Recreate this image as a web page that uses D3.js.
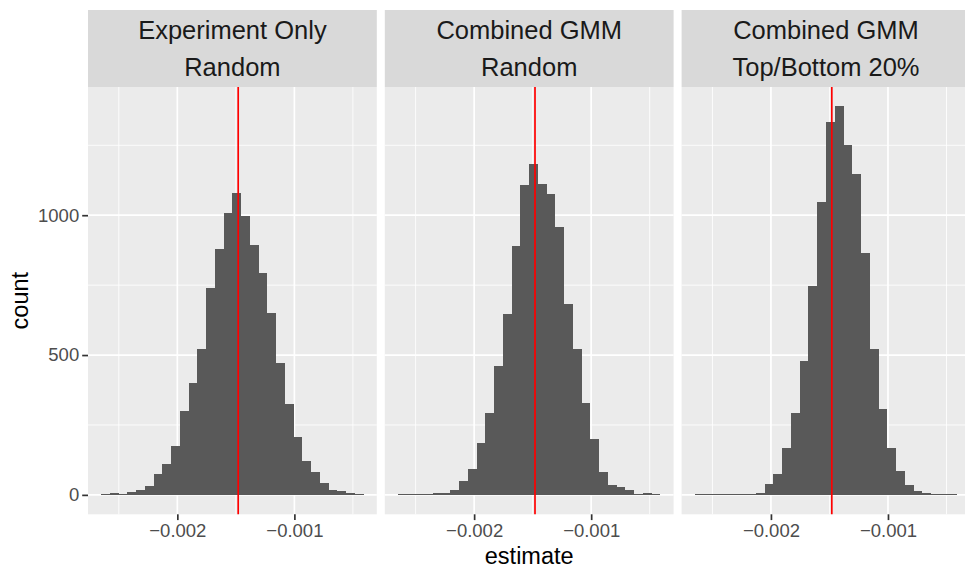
<!DOCTYPE html>
<html>
<head>
<meta charset="utf-8">
<script src="https://cdn.jsdelivr.net/npm/d3@7"></script>
<style>
  html, body { margin: 0; padding: 0; background: #ffffff; }
  svg { display: block; font-family: "Liberation Sans", Arial, Helvetica, sans-serif; }
</style>
</head>
<body>
<svg id="chart" width="965" height="568"></svg>
<script>
// ---- data ----
const panelTitles = [
  ["Experiment Only", "Random"],
  ["Combined GMM", "Random"],
  ["Combined GMM", "Top/Bottom 20%"]
];
// common histogram bins (30 bins shared by all facets)
const binMin = -0.0026511;
const binWidth = 0.00007477;
const countsExperimentRandom = [3, 5, 3, 12, 18, 30, 76, 112, 176, 300, 400, 521, 740, 880, 1008,
  1080, 997, 893, 793, 650, 473, 326, 208, 121, 82, 44, 18, 14, 5, 3];
const countsCombinedRandom = [3, 3, 3, 3, 5, 8, 19, 50, 93, 186, 293, 461, 646, 889, 1107,
  1182, 1111, 1075, 957, 682, 521, 329, 200, 82, 36, 29, 18, 3, 5, 3];
const countsCombinedTopBottom = [3, 3, 3, 3, 3, 3, 3, 8, 39, 75, 168, 293, 479, 746, 1046,
  1332, 1389, 1250, 1146, 864, 521, 307, 168, 86, 36, 14, 5, 3, 3, 3];
const vlineValue = -0.00148;
const xMajorTicks = [-0.002, -0.001];
const xTickLabels = ["\u22120.002", "\u22120.001"];
const xMinorTicks = [-0.0025, -0.0015, -0.0005];
const yMajorTicks = [0, 500, 1000];
const yTickLabels = ["0", "500", "1000"];
const yMinorTicks = [250, 750, 1250];
const xTitle = "estimate";
const yTitle = "count";

const allCounts = [countsExperimentRandom, countsCombinedRandom, countsCombinedTopBottom];

// ---- layout ----
const svg = d3.select("#chart");
const panelW = 288.8, panelGap = 8;
const firstLeft = 88;
const stripTop = 10, panelTop = 87, panelBottom = 514.3;

const nBins = countsExperimentRandom.length;
const binMax = binMin + nBins * binWidth;
const xr = binMax - binMin;
const xDomain = [binMin - 0.05 * xr, binMax + 0.05 * xr];
const yMax = d3.max(allCounts.flat());
const yDomain = [-0.05 * yMax, yMax * 1.05];

const x = d3.scaleLinear().domain(xDomain).range([0, panelW]);
const y = d3.scaleLinear().domain(yDomain).range([panelBottom, panelTop]);

const bgPanel = "#EBEBEB", bgStrip = "#D9D9D9", barFill = "#595959";

allCounts.forEach((counts, p) => {
  const left = firstLeft + p * (panelW + panelGap);
  const g = svg.append("g").attr("transform", `translate(${left},0)`);

  // strip
  g.append("rect").attr("x", 0).attr("y", stripTop).attr("width", panelW)
    .attr("height", panelTop - stripTop).attr("fill", bgStrip);
  g.append("text").attr("x", panelW / 2).attr("y", 39.3).attr("text-anchor", "middle")
    .attr("font-size", 25.5).attr("fill", "#1A1A1A").text(panelTitles[p][0]);
  g.append("text").attr("x", panelW / 2).attr("y", 76).attr("text-anchor", "middle")
    .attr("font-size", 25.5).attr("fill", "#1A1A1A").text(panelTitles[p][1]);

  // panel background
  g.append("rect").attr("x", 0).attr("y", panelTop).attr("width", panelW)
    .attr("height", panelBottom - panelTop).attr("fill", bgPanel);

  // minor grid
  xMinorTicks.forEach(v => g.append("line").attr("x1", x(v)).attr("x2", x(v))
    .attr("y1", panelTop).attr("y2", panelBottom).attr("stroke", "#fff").attr("stroke-width", 0.85));
  yMinorTicks.forEach(v => g.append("line").attr("x1", 0).attr("x2", panelW)
    .attr("y1", y(v)).attr("y2", y(v)).attr("stroke", "#fff").attr("stroke-width", 0.85));
  // major grid
  xMajorTicks.forEach(v => g.append("line").attr("x1", x(v)).attr("x2", x(v))
    .attr("y1", panelTop).attr("y2", panelBottom).attr("stroke", "#fff").attr("stroke-width", 1.7));
  yMajorTicks.forEach(v => g.append("line").attr("x1", 0).attr("x2", panelW)
    .attr("y1", y(v)).attr("y2", y(v)).attr("stroke", "#fff").attr("stroke-width", 1.7));

  // bars
  g.append("g").selectAll("rect").data(counts).join("rect")
    .attr("x", (d, i) => x(binMin + i * binWidth))
    .attr("width", (d, i) => x(binMin + (i + 1) * binWidth) - x(binMin + i * binWidth))
    .attr("y", d => y(d))
    .attr("height", d => y(0) - y(d))
    .attr("fill", barFill)
    .attr("shape-rendering", "crispEdges");

  // vertical reference line
  g.append("line").attr("x1", x(vlineValue)).attr("x2", x(vlineValue))
    .attr("y1", panelTop).attr("y2", panelBottom).attr("stroke", "#FF0000").attr("stroke-width", 1.7);

  // x axis
  const xAxis = d3.axisBottom(x).tickValues(xMajorTicks)
    .tickFormat((d, i) => xTickLabels[i]).tickSizeInner(5.8).tickSizeOuter(0).tickPadding(4);
  const ax = g.append("g").attr("transform", `translate(0,${panelBottom})`).call(xAxis);
  ax.select(".domain").remove();
  ax.selectAll(".tick line").attr("stroke", "#333333").attr("stroke-width", 1.7);
  ax.selectAll(".tick text").attr("fill", "#4D4D4D").attr("font-size", 18.5)
    .attr("font-family", "Liberation Sans, Arial, sans-serif").attr("dy", "0.71em");

  // y axis on first panel only
  if (p === 0) {
    const yAxis = d3.axisLeft(y).tickValues(yMajorTicks)
      .tickFormat((d, i) => yTickLabels[i]).tickSizeInner(5.8).tickSizeOuter(0).tickPadding(3);
    const ay = g.append("g").call(yAxis);
    ay.select(".domain").remove();
    ay.selectAll(".tick line").attr("stroke", "#333333").attr("stroke-width", 1.7);
    ay.selectAll(".tick text").attr("fill", "#4D4D4D").attr("font-size", 18.5)
      .attr("font-family", "Liberation Sans, Arial, sans-serif");
  }
});

// axis titles
const totalRight = firstLeft + 3 * panelW + 2 * panelGap;
svg.append("text").attr("x", (firstLeft + totalRight) / 2).attr("y", 564)
  .attr("text-anchor", "middle").attr("font-size", 23.5).attr("fill", "#000").text(xTitle);
svg.append("text").attr("transform", `translate(27.5,${(panelTop + panelBottom) / 2}) rotate(-90)`)
  .attr("text-anchor", "middle").attr("font-size", 23.5).attr("fill", "#000").text(yTitle);
</script>
</body>
</html>
